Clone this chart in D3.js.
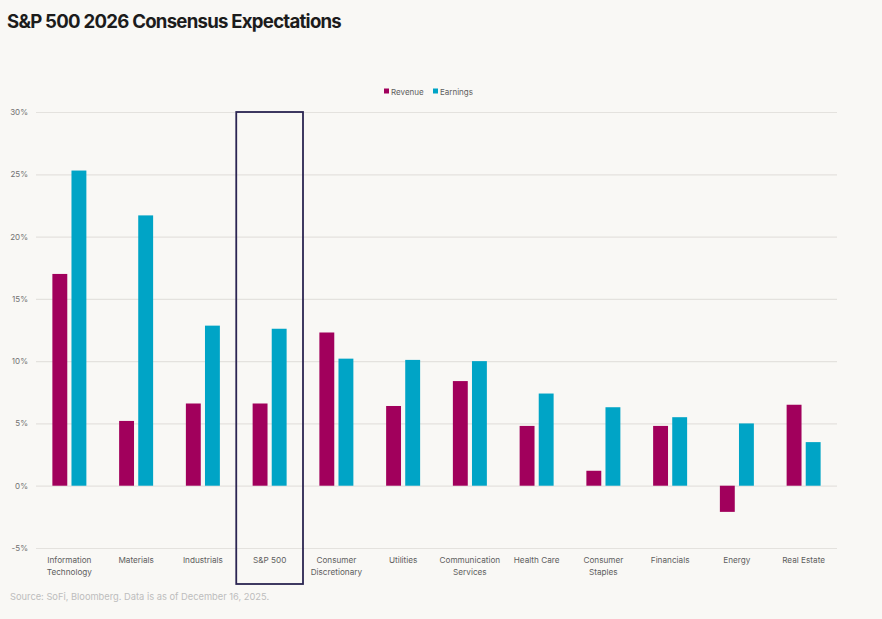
<!DOCTYPE html>
<html>
<head>
<meta charset="utf-8">
<script src="https://cdn.jsdelivr.net/npm/d3@7"></script>
<style>
  body { margin: 0; background: #f9f8f5; }
  #chart { width: 882px; height: 619px; }
</style>
</head>
<body>
<div id="chart"></div>
<script>
// values
const categories = [
  ["Information", "Technology"], ["Materials"], ["Industrials"], ["S&P 500"],
  ["Consumer", "Discretionary"], ["Utilities"], ["Communication", "Services"],
  ["Health Care"], ["Consumer", "Staples"], ["Financials"], ["Energy"], ["Real Estate"],
];
const revenue = [17.0, 5.2, 6.6, 6.6, 12.3, 6.4, 8.4, 4.8, 1.2, 4.8, -2.1, 6.5];
const earnings = [25.3, 21.7, 12.85, 12.6, 10.2, 10.1, 10.0, 7.4, 6.3, 5.5, 5.0, 3.5];
const yTicks = [-5, 0, 5, 10, 15, 20, 25, 30];
const seriesNames = ["Revenue", "Earnings"];
const highlight = "S&P 500";

const colors = { Revenue: "#a1005c", Earnings: "#00a4c6" };
const font = "Inter, 'Noto Sans', sans-serif";

const width = 882, height = 619;
const svg = d3.select("#chart").append("svg")
  .attr("width", width).attr("height", height)
  .style("background", "#f9f8f5");

const names = categories.map((c) => c.join(" "));
const x = d3.scaleBand().domain(names).range([36, 837]);
const y = d3.scaleLinear().domain([-5, 30]).range([548, 112]);
const sub = d3.scaleBand().domain(seriesNames).range([0, 34]).paddingInner(0.22);

// title
svg.append("text")
  .attr("x", 7).attr("y", 28)
  .attr("font-family", font).attr("font-weight", 700)
  .attr("font-size", 18.6).attr("letter-spacing", -0.75)
  .attr("fill", "#1c1c1c")
  .text("S&P 500 2026 Consensus Expectations");

// gridlines + y labels
const yAxis = svg.append("g").attr("transform", "translate(36,0)")
  .call(d3.axisLeft(y).tickValues(yTicks).tickSize(-801).tickFormat((d) => d + "%"));
yAxis.select(".domain").remove();
yAxis.selectAll(".tick line").attr("stroke", "#e4e2de").attr("stroke-width", 1.2);
yAxis.selectAll(".tick text")
  .attr("x", -8).attr("font-family", font).attr("font-size", 8).attr("fill", "#727272");

// bars
const rows = names.map((n, i) => ({ name: n, values: [
  { key: "Revenue", v: revenue[i] }, { key: "Earnings", v: earnings[i] },
] }));

const groups = svg.selectAll(".grp").data(rows).enter().append("g")
  .attr("transform", (d) => `translate(${x(d.name) + x.bandwidth() / 2 - 17},0)`);

groups.selectAll("rect").data((d) => d.values).enter().append("rect")
  .attr("x", (d) => sub(d.key))
  .attr("width", sub.bandwidth())
  .attr("y", (d) => y(Math.max(0, d.v)))
  .attr("height", (d) => Math.abs(y(d.v) - y(0)))
  .attr("fill", (d) => colors[d.key]);

// category labels
const labels = svg.selectAll(".cat").data(categories).enter().append("text")
  .attr("x", (d) => x(d.join(" ")) + x.bandwidth() / 2)
  .attr("y", 563)
  .attr("text-anchor", "middle")
  .attr("font-family", font).attr("font-size", 8.2).attr("fill", "#5e5e5e");
labels.selectAll("tspan").data((d) => d).enter().append("tspan")
  .attr("x", function () { return this.parentNode.getAttribute("x"); })
  .attr("dy", (d, i) => (i === 0 ? 0 : 11.5))
  .text((d) => d);

// highlight box round the S&P 500 column
svg.append("rect")
  .attr("x", x(highlight)).attr("y", y(30))
  .attr("width", x.bandwidth()).attr("height", 584 - y(30))
  .attr("fill", "none").attr("stroke", "#2b2552").attr("stroke-width", 1.8);

// legend
const legend = svg.append("g").attr("transform", "translate(384,92)");
const lx = [0, 49];
seriesNames.forEach((s, i) => {
  legend.append("rect").attr("x", lx[i]).attr("y", -3.5).attr("width", 5).attr("height", 5)
    .attr("fill", colors[s]);
  legend.append("text").attr("x", lx[i] + 7).attr("y", 2.5)
    .attr("font-family", font).attr("font-size", 8).attr("fill", "#5e5e5e").text(s);
});

// source note
svg.append("text")
  .attr("x", 10).attr("y", 600)
  .attr("font-family", font).attr("font-size", 9.3).attr("fill", "#bdbdbd")
  .text("Source: SoFi, Bloomberg. Data is as of December 16, 2025.");
</script>
</body>
</html>
